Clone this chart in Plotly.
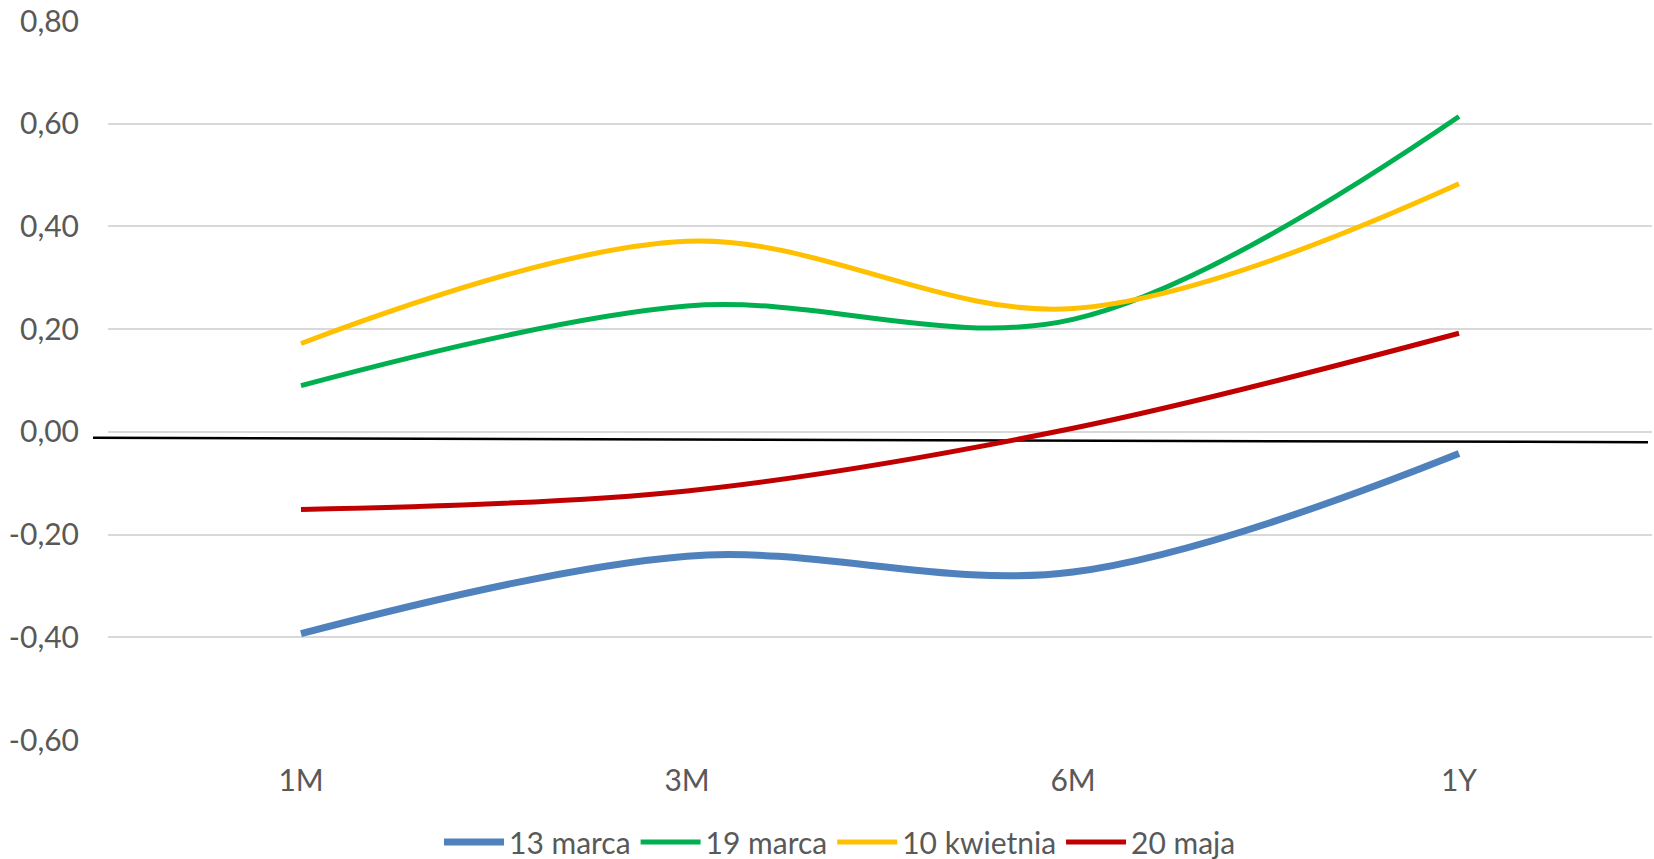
import plotly.graph_objects as go

categories = ["1M", "3M", "6M", "1Y"]
series_names = ["13 marca", "19 marca", "10 kwietnia", "20 maja"]
v_13_marca = [-0.393, -0.242, -0.273, -0.042]
v_19_marca = [0.090, 0.245, 0.219, 0.614]
v_10_kwietnia = [0.172, 0.371, 0.240, 0.483]
v_20_maja = [-0.151, -0.115, 0.007, 0.192]
y_tick_vals = [-0.6, -0.4, -0.2, 0.0, 0.2, 0.4, 0.6, 0.8]
y_tick_text = ["-0,60", "-0,40", "-0,20", "0,00", "0,20", "0,40", "0,60", "0,80"]

# manually drawn reference line (slightly sloped), in data y units
ref_line_y = [-0.0117, -0.0201]

colors = ["#4F81BD", "#00B050", "#FFC000", "#C00000"]
widths = [7, 5, 5, 5]
values = [v_13_marca, v_19_marca, v_10_kwietnia, v_20_maja]

FONT = "Lato, 'Open Sans', sans-serif"
GREY = "#595959"

fig = go.Figure()
for name, vals, c, w in zip(series_names, values, colors, widths):
    fig.add_trace(go.Scatter(
        x=categories, y=vals, name=name, mode="lines",
        line=dict(color=c, width=w, shape="spline", smoothing=1.0),
    ))

W, H = 1654, 859
L, R, T, B = 108, 2, 21, 119
pw = W - L - R
ph = H - T - B

fig.add_shape(type="line", xref="paper", yref="y",
              x0=(93 - L) / pw, x1=(1648 - L) / pw,
              y0=ref_line_y[0], y1=ref_line_y[1],
              line=dict(color="black", width=2.5), layer="between")

fig.update_layout(
    width=W, height=H,
    margin=dict(l=L, r=R, t=T, b=B, pad=0, autoexpand=False),
    paper_bgcolor="white", plot_bgcolor="white",
    font=dict(family=FONT, size=30, color=GREY),
    showlegend=True,
    legend=dict(orientation="h", x=(840 - L) / pw, xanchor="center",
                y=-(842 - (H - B)) / ph, yanchor="middle",
                font=dict(family=FONT, size=30, color=GREY), itemwidth=60,
                bgcolor="rgba(0,0,0,0)"),
    xaxis=dict(type="category", range=[-0.5, 3.5], showgrid=False, zeroline=False,
               showline=False, ticks="", ticklabelstandoff=20,
               tickfont=dict(family=FONT, size=30, color=GREY)),
    yaxis=dict(range=[-0.6, 0.8], tickvals=y_tick_vals, ticktext=y_tick_text,
               showgrid=True, gridcolor="#D9D9D9", gridwidth=1.5, zeroline=False,
               showline=False, ticks="", ticklabelstandoff=28,
               tickfont=dict(family=FONT, size=30, color=GREY)),
)

fig.write_html("out.html")
